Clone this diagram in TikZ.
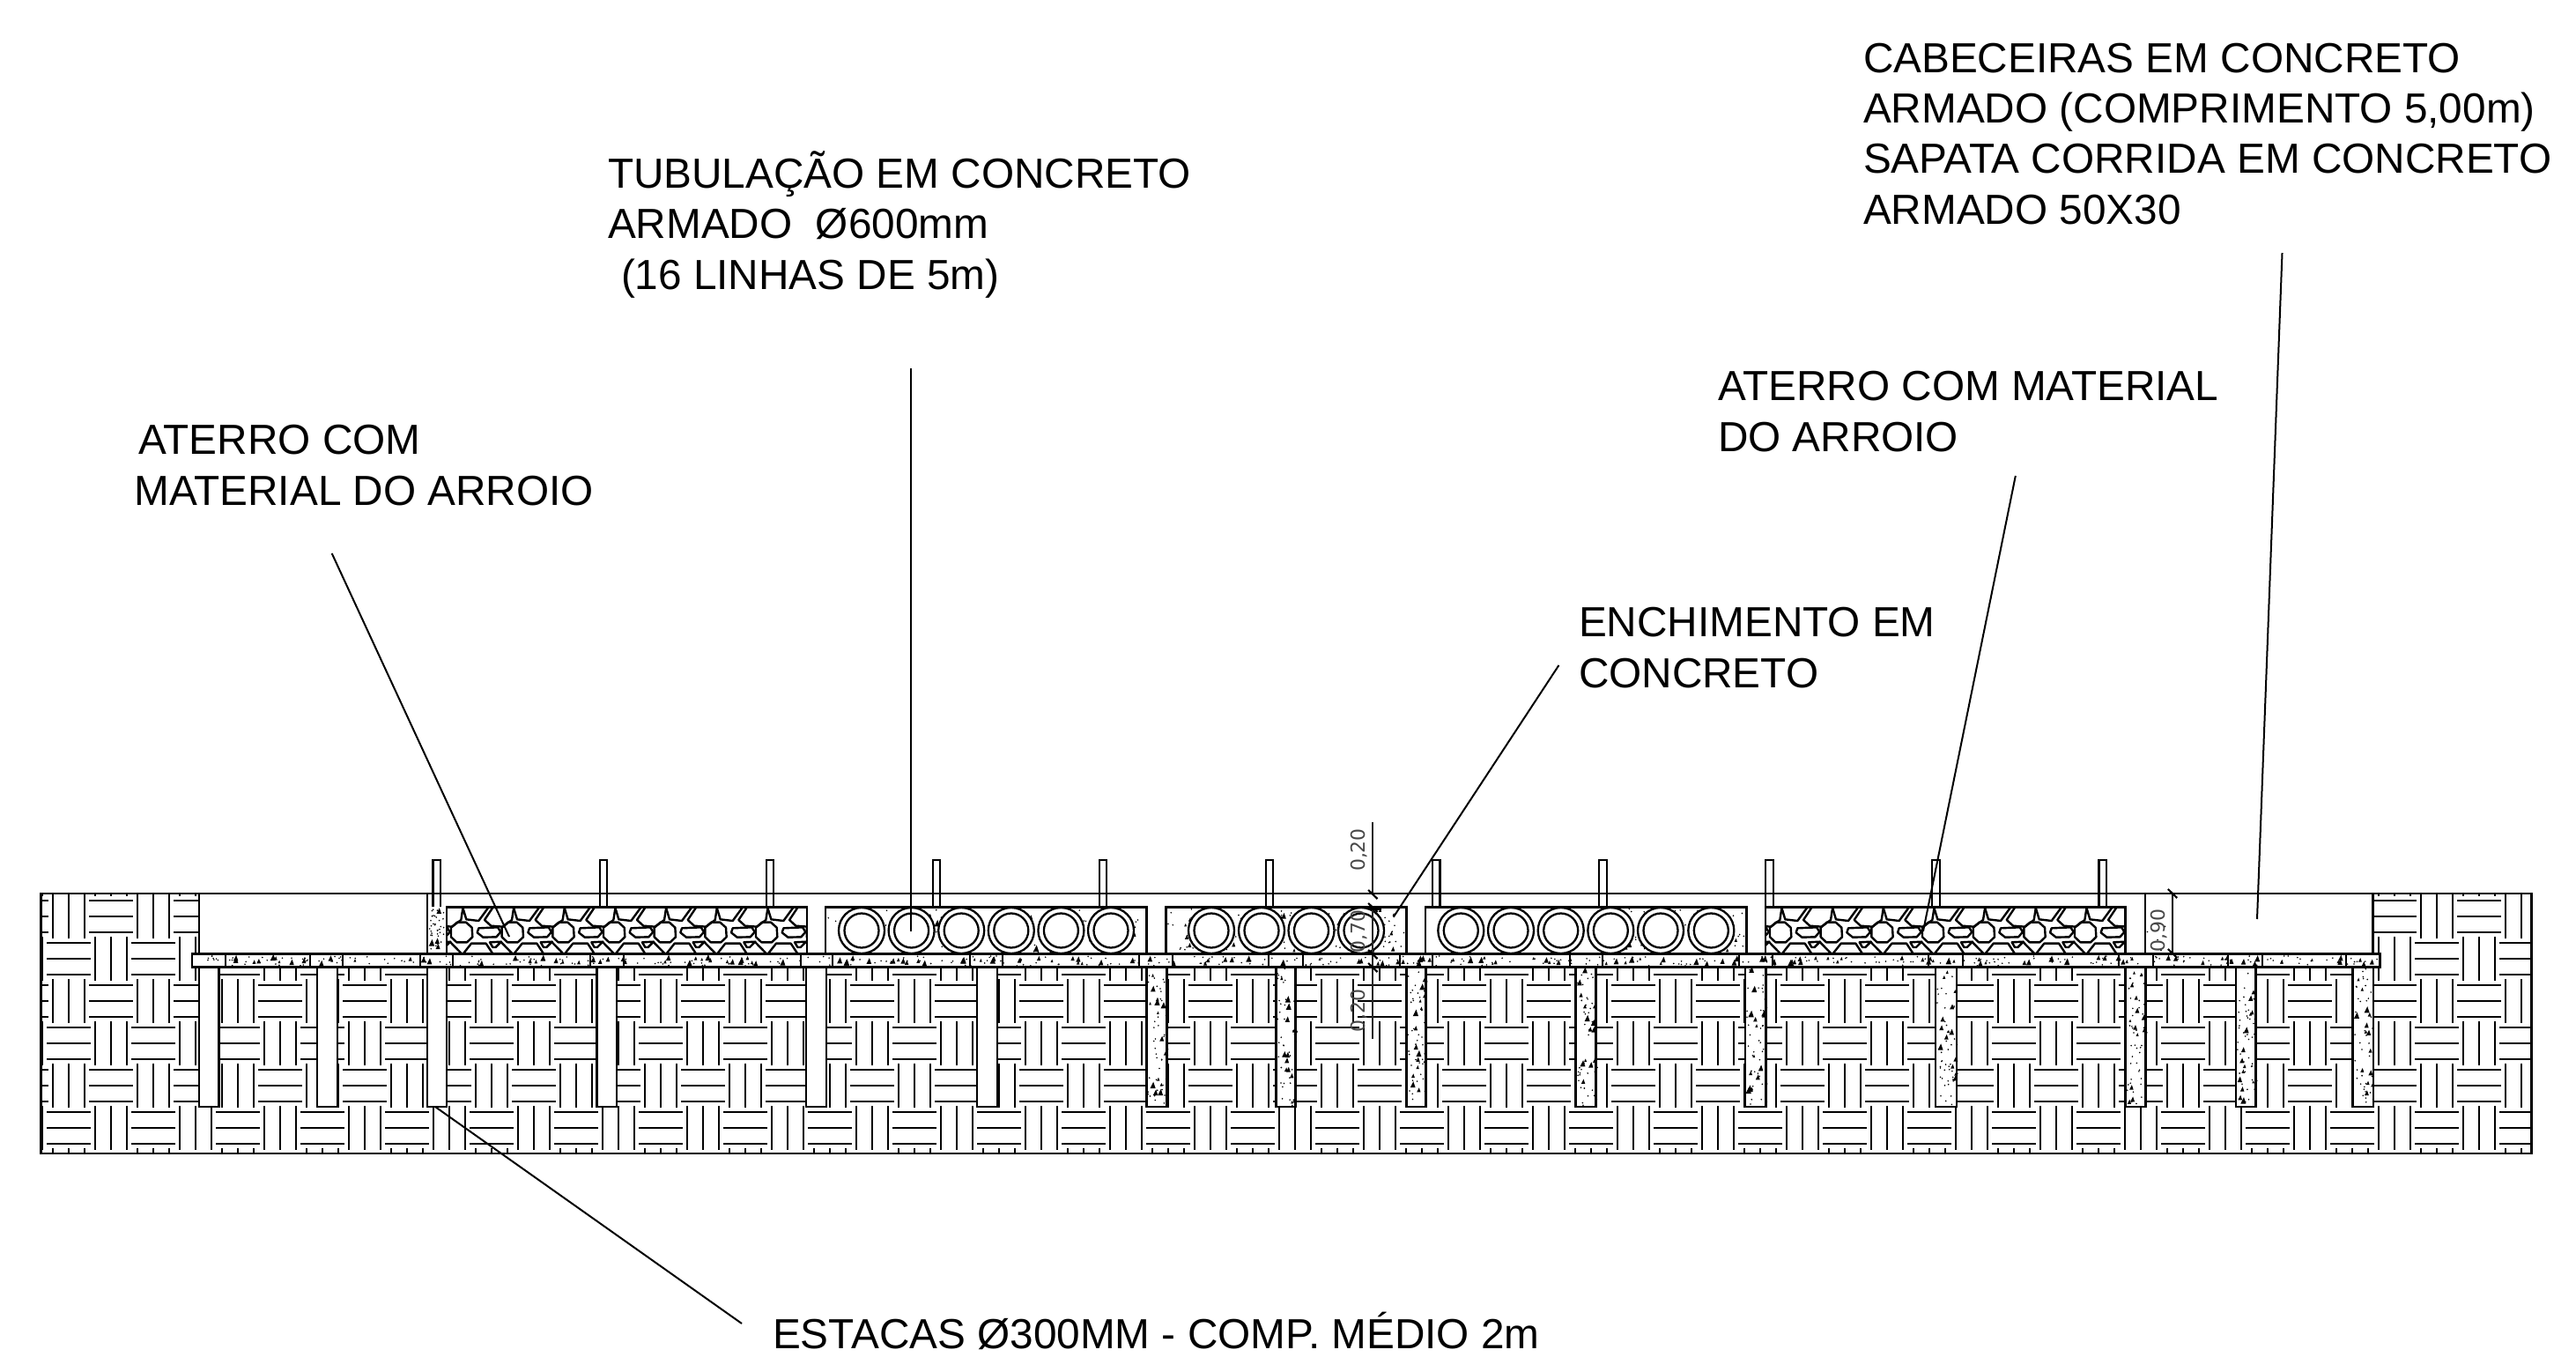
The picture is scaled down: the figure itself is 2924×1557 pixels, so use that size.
\documentclass[tikz,border=0pt]{standalone}
\usepackage{fontspec}
\setmainfont{Liberation Sans}
\newfontfamily\dimfont{DejaVu Sans}
\tikzset{
  lbl/.style={inner sep=0pt,outer sep=0pt,anchor=base west,align=left,font=\fontsize{47.9}{57.6}\selectfont},
  dimtxt/.style={inner sep=0pt,outer sep=0pt,rotate=90,text=black!72,font=\dimfont\fontsize{22}{22}\selectfont},
  outline/.style={draw=black,line width=2.6bp},
  hatchline/.style={draw=black,line width=2.2bp},
  leader/.style={draw=black,line width=2bp},
  dimline/.style={draw=black!85,line width=1.8bp},
  pipeo/.style={draw=black,line width=2.3bp,fill=white},
  stone/.style={draw=black,line width=2.4bp,line join=round},
}
\newcommand{\specks}[6]{%
  \foreach \nn in {1,...,#5}{%
    \pgfmathsetmacro\sx{#1+rnd*(#3-#1)}%
    \pgfmathsetmacro\sy{#2+rnd*(#4-#2)}%
    \fill[black] (\sx,\sy) circle (0.9bp);}%
  \ifnum#6>0
  \foreach \nn in {1,...,#6}{%
    \pgfmathsetmacro\sx{#1+2+rnd*(#3-#1-4)}%
    \pgfmathsetmacro\sy{#2+2+rnd*(#4-#2-4)}%
    \pgfmathsetmacro\sz{1.3+rnd*1.9}%
    \fill[black] (\sx-\sz,\sy+\sz) -- (\sx+\sz,\sy+\sz) -- (\sx+0.2*\sz,\sy-1.4*\sz) -- cycle;}%
  \fi
}
\newcommand{\gravelfill}[4]{% x1 x2 origin nperiods
  \begin{scope}
    \clip (#1,1029.3) rectangle (#2,1082.7);
    \foreach \pp in {-1,...,#4}{
      \begin{scope}[shift={(#3+\pp*57.67-24,1020)},x=0.33333bp,y=-0.33333bp]
        \draw[stone] (57,80)--(87,80)--(107,98)--(109,130)--(90,148)--(55,148)--(36,130)--(36,98)--cycle;
        \draw[stone] (130,100)--(195,97)--(205,113)--(190,130)--(145,131)--(125,115)--cycle;
        \draw[stone] (180,27)--(150,72)--(172,92)--(212,95)--(243,72)--(250,27);
        \draw[stone] (75,27)--(88,70)--(130,75)--(165,27);
        \draw[stone] (168,148)--(207,146)--(188,165)--(178,165)--cycle;
        \draw[stone] (32,146)--(75,190)--(105,152)--(155,152)--(180,190);
      \end{scope}}
  \end{scope}
}
\begin{document}
\begin{tikzpicture}[x=1bp,y=-1bp]
\useasboundingbox (0,0) rectangle (2924,1557);
\pgfmathsetseed{4711}
% soil hatch
\begin{scope}
  \clip (46.7,1014) rectangle (2873.6,1309);
  \foreach \ii in {-1,...,59}{
    \foreach \jj in {-1,...,6}{
      \pgfmathsetmacro\cx{78+48*\ii}
      \pgfmathsetmacro\cy{1040+48*\jj}
      \pgfmathtruncatemacro\parit{mod(\ii+\jj+4,2)}
      \ifnum\parit=0
        \foreach \oo in {-18,0,18}{\draw[hatchline] (\cx+\oo,\cy-25) -- (\cx+\oo,\cy+25);}
      \else
        \foreach \oo in {-18,0,18}{\draw[hatchline] (\cx-25,\cy+\oo) -- (\cx+25,\cy+\oo);}
      \fi
    }}
\end{scope}
% voids above the beam
\fill[white] (226,1014) rectangle (2693.5,1082.7);
\draw[outline] (46.7,1014) rectangle (2873.6,1309);
\draw[outline] (226,1014) -- (226,1082.7);
\draw[outline] (2693.5,1014) -- (2693.5,1082.7);
% piles
\foreach \aa/\bb in {226/248.5,360/383,485/507,677.6/700,915/938,1109/1132}{
  \filldraw[fill=white,outline] (\aa,1097.3) rectangle (\bb,1256);}
\foreach \aa/\bb in {1301.5/1324.5,1448.5/1470.5,1596.5/1618.4,1788.7/1811.7,1981/2004.6,2197/2221,2412.7/2435.7,2538/2560.6,2670.5/2694}{
  \filldraw[fill=white,outline] (\aa,1097.3) rectangle (\bb,1256);
  \specks{\aa+1.5}{1099}{\bb-1.5}{1254.5}{45}{14}}
% beam
\filldraw[fill=white,outline] (218,1082.7) rectangle (2701.5,1097.3);
\specks{220}{1085}{2699}{1096}{380}{170}
\draw[draw=black,line width=3.2bp] (218,1082.7) -- (2701.5,1082.7);
\foreach \xx in {256,351.5,389,477,514,670,708,909,945,1100.5,1138,1293,1331,1440,1479,1589,1626,1781.7,1819.3,1974.3,2012,2189,2227.6,2405,2444,2529,2568,2663}{
  \draw[draw=black,line width=2bp] (\xx,1082.7) -- (\xx,1097.3);}
% filling strips beside the boxes
\draw[outline] (485,1014) -- (485,1082.7);
\draw[outline] (507,1029.3) -- (507,1082.7);
\specks{487}{1030}{505}{1080}{34}{4}
\draw[outline] (2435,1014) -- (2435,1082.7);
\draw[outline] (2466,1014) -- (2466,1082.7);
\specks{2437}{1020}{2464}{1080}{4}{0}
% reinforcing bars
\foreach \rr in {491.5,680.6,869.7,1058.8,1247.9,1437,1626.1,1815.2,2004.3,2193.4,2382.5}{
  \draw[draw=black,line width=2.1bp] (\rr,1029.3) -- (\rr,976) -- (\rr+8.4,976) -- (\rr+8.4,1029.3);}
% gravel boxes
\filldraw[fill=white,outline] (507,1029.3) rectangle (916,1082.7);
\gravelfill{507}{916}{524}{7}
\draw[outline] (507,1029.3) rectangle (916,1082.7);
\filldraw[fill=white,outline] (2004,1029.3) rectangle (2412.7,1082.7);
\gravelfill{2004}{2412.7}{2021}{7}
\draw[outline] (2004,1029.3) rectangle (2412.7,1082.7);
% pipe boxes
\filldraw[fill=white,outline] (937,1029.3) rectangle (1301.5,1082.7);
\specks{939}{1031}{1299.5}{1081}{60}{18}
\filldraw[fill=white,outline] (1323.5,1029.3) rectangle (1596.5,1082.7);
\specks{1325.5}{1031}{1594.5}{1081}{130}{34}
\filldraw[fill=white,outline] (1618,1029.3) rectangle (1982.3,1082.7);
\specks{1840}{1031}{1980}{1081}{55}{14}
\foreach \cc in {978,1034.6,1091.2,1147.8,1204.4,1261,1375,1432,1488.5,1545,1658.3,1715,1771.7,1828.3,1885,1942.3}{
  \draw[pipeo] (\cc,1056) circle (26bp);
  \draw[pipeo] (\cc,1056) circle (19.5bp);}
% top datum line
\draw[outline] (226,1014) -- (2693.5,1014);
% dimensions
\coordinate (d1a) at (1558.3,932.7);
\coordinate (d1b) at (1558.3,1015);
\coordinate (d2a) at (1558.3,1030);
\coordinate (d2b) at (1558.3,1083);
\coordinate (d3a) at (1558.3,1098);
\coordinate (d3b) at (1558.3,1179.3);
\coordinate (d4a) at (2466,1014);
\coordinate (d4b) at (2466,1082);
\draw[dimline] (d1a) -- (d1b);
\draw[dimline] (d2a) -- (d2b) -- (d3a) -- (d3b);
\foreach \tt in {d1b,d2a,d2b,d3a,d4a,d4b}{
  \draw[draw=black,line width=2.2bp] ([xshift=-5.2bp,yshift=5bp]\tt) -- ([xshift=5.2bp,yshift=-5bp]\tt);}
\fill[black] (1556,1029) rectangle (1568,1032.5);
\node[dimtxt] (t020a) at (1543,964.5) {0,20};
\node[dimtxt] (t070) at (1543,1057) {0,70};
\node[dimtxt] (t020b) at (1543,1147) {0,20};
\node[dimtxt] (t090) at (2450.7,1056) {0,90};
% labels
\node[lbl] (cab) at (2115,254.3) {CABECEIRAS EM CONCRETO\\ARMADO (COMPRIMENTO 5,00m)\\SAPATA CORRIDA EM CONCRETO\\ARMADO 50X30};
\node[lbl] (tub) at (690,328.3) {TUBULAÇÃO EM CONCRETO\\ARMADO\ \ Ø600mm\\\hspace*{15bp}(16 LINHAS DE 5m)};
\node[lbl] (atl) at (152.5,573) {\hspace*{5bp}ATERRO COM\\MATERIAL DO ARROIO};
\node[lbl] (atr) at (1950,512.3) {ATERRO COM MATERIAL\\DO ARROIO};
\node[lbl] (enc) at (1792,780) {ENCHIMENTO EM\\CONCRETO};
\node[lbl] (est) at (877,1530) {ESTACAS Ø300MM - COMP. MÉDIO 2m};
% leaders
\coordinate (l1a) at (376.7,628); \coordinate (l1b) at (578,1063);
\coordinate (l2a) at (1033.5,418); \coordinate (l2b) at (1033.5,1056.7);
\coordinate (l3a) at (1769.4,755); \coordinate (l3b) at (1581.7,1040.7);
\coordinate (l4a) at (2287.8,540); \coordinate (l4b) at (2183,1056.7);
\coordinate (l5a) at (2590.5,287); \coordinate (l5b) at (2562,1043);
\coordinate (l6a) at (842,1502); \coordinate (l6b) at (494,1256);
\draw[leader] (l1a) -- (l1b);
\draw[leader] (l2a) -- (l2b);
\draw[leader] (l3a) -- (l3b);
\draw[leader] (l4a) -- (l4b);
\draw[leader] (l5a) -- (l5b);
\draw[leader] (l6a) -- (l6b);
\end{tikzpicture}
\end{document}
